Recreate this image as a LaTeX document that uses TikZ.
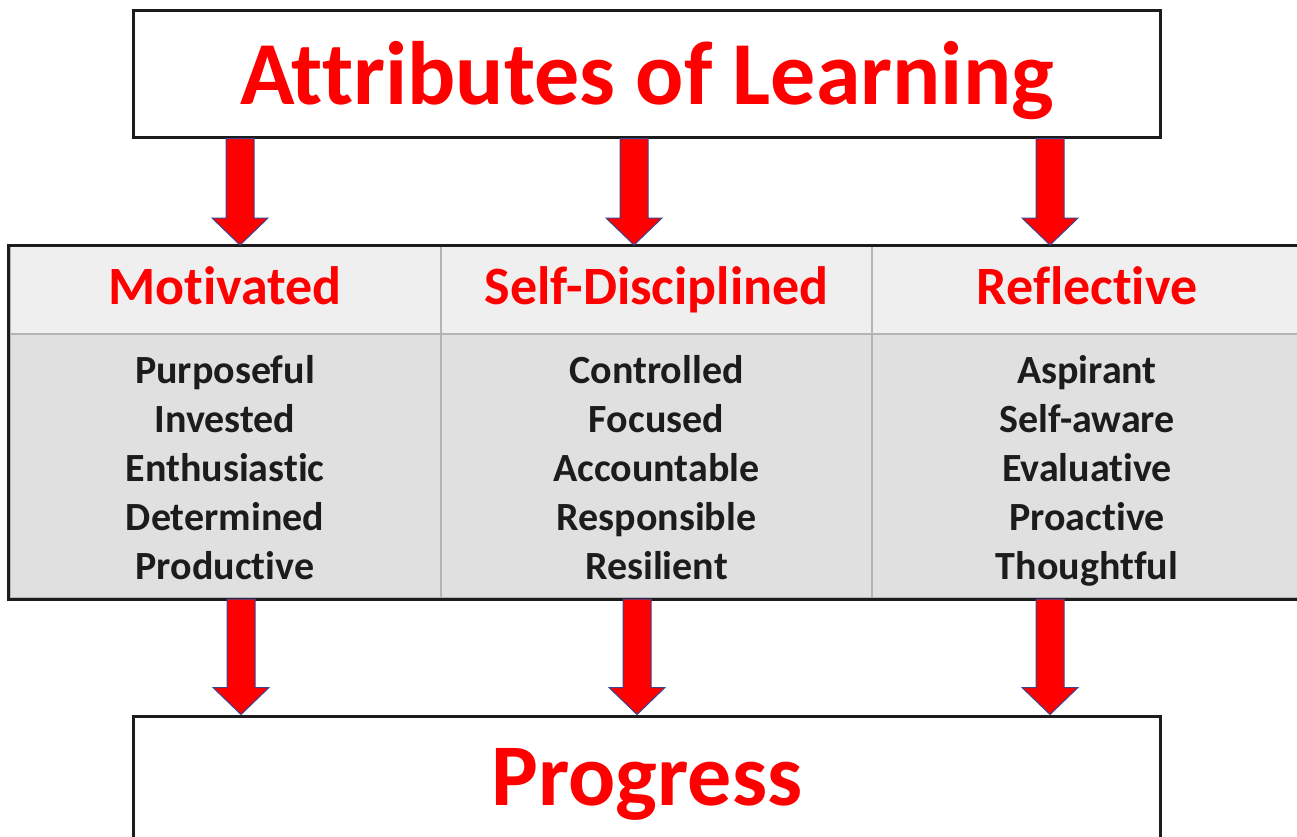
\documentclass[tikz,border=0pt]{standalone}
\usepackage{fontspec}
\setmainfont{Carlito}[RawFeature={-liga;-clig;-calt;-dlig}]
\usetikzlibrary{calc}
\definecolor{hdrgray}{HTML}{EFEFEF}
\definecolor{bodygray}{HTML}{E0E0E0}
\definecolor{rulegray}{HTML}{B4B4B4}
\definecolor{arrowedge}{HTML}{3A4690}
\definecolor{ink}{HTML}{1C1C1C}
\begin{document}
\begin{tikzpicture}[x=1pt,y=-1pt,
    bigbox/.style={draw=ink,line width=3pt,fill=white,minimum width=1027pt,minimum height=127pt,inner sep=0pt},
    bigtext/.style={text=red,font=\bfseries\fontsize{90}{100}\selectfont,anchor=base},
    hdcell/.style={draw=rulegray,line width=2pt,fill=hdrgray,minimum width=431pt,minimum height=88pt,inner sep=0pt},
    bdcell/.style={draw=rulegray,line width=2pt,fill=bodygray,minimum width=431pt,minimum height=264pt,inner sep=0pt},
    colhead/.style={text=red,font=\bfseries\fontsize{54}{60}\selectfont,anchor=base},
    item/.style={text=ink,font=\bfseries\fontsize{40}{49}\selectfont,anchor=base},
    fatarrow/.style={fill=red,draw=arrowedge,line width=1pt,line join=miter}]
    \useasboundingbox (0,0) rectangle (1297,836);
    \fill[white] (0,0) rectangle (1297,836);
    \node[bigbox](title) at (646.5,73.5){};
    \node[bigtext](titletext) at (647,104){Attributes of Learning};
    \node[bigbox](progress) at (646.5,779.5){};
    \node[bigtext,font=\bfseries\fontsize{88}{98}\selectfont](progresstext) at (647,805){Progress};
    \foreach \cx [count=\c] in {225,656.5,1087}
    {
        \node[hdcell](hd\c) at (\cx,290){};
        \node[bdcell](bd\c) at (\cx,466){};
    }
    \draw[ink,line width=3pt] (hd1.north west) rectangle (bd3.south east);
    \node[colhead](h1) at (225,304){Motivated};
    \node[colhead](h2) at (656.5,304){Self-Disciplined};
    \node[colhead](h3) at (1087,304){Reflective};
    \foreach \w [count=\i] in {Purposeful,Invested,Enthusiastic,Determined,Productive}
    {
        \node[item](m\i) at (225,334+49*\i){\w};
    }
    \foreach \w [count=\i] in {Controlled,Focused,Accountable,Responsible,Resilient}
    {
        \node[item](s\i) at (656.5,334+49*\i){\w};
    }
    \foreach \w [count=\i] in {Aspirant,Self-aware,Evaluative,Proactive,Thoughtful}
    {
        \node[item](r\i) at (1087,334+49*\i){\w};
    }
    \foreach \xa/\xb [count=\c] in {240/241,634/637,1050/1050}
    {
        \draw[fatarrow] let \p1=(\xa,0), \p2=(title.south), \p3=(hd\c.north) in
            (\x1-14pt,\y2)--(\x1+14pt,\y2)--(\x1+14pt,\y3+27pt)--(\x1+28pt,\y3+27pt)
            --(\x1,\y3)--(\x1-28pt,\y3+27pt)--(\x1-14pt,\y3+27pt)--cycle;
        \draw[fatarrow] let \p1=(\xb,0), \p2=(bd\c.south), \p3=(progress.north) in
            (\x1-14pt,\y2)--(\x1+14pt,\y2)--(\x1+14pt,\y3+27pt)--(\x1+28pt,\y3+27pt)
            --(\x1,\y3)--(\x1-28pt,\y3+27pt)--(\x1-14pt,\y3+27pt)--cycle;
    }
\end{tikzpicture}
\end{document}
